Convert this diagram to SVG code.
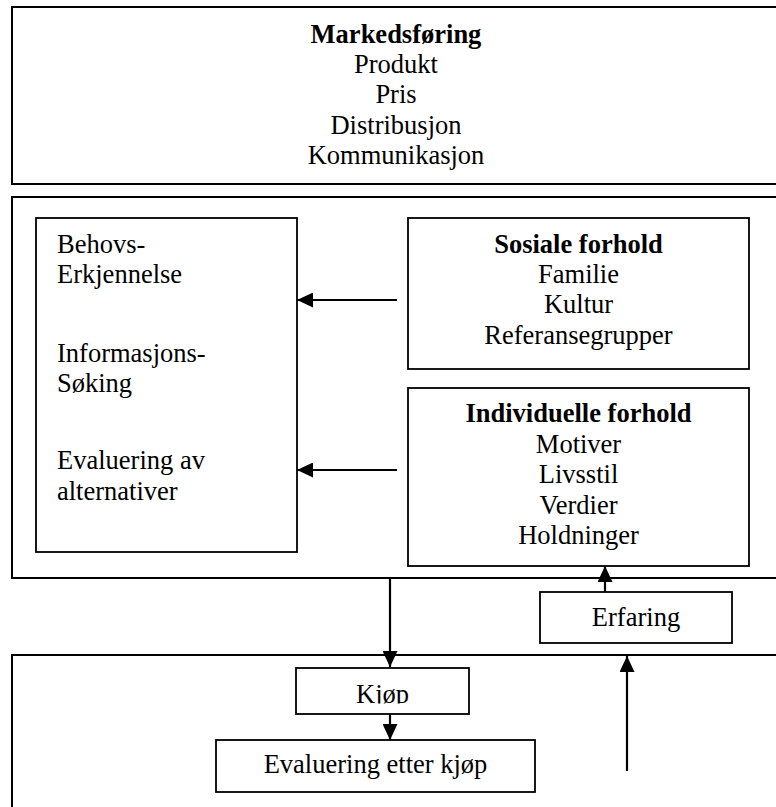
<svg xmlns="http://www.w3.org/2000/svg" width="776" height="807" viewBox="0 0 776 807">
<style>
.box{fill:#fff;stroke:#000;stroke-width:2}
.ibox{fill:#fff;stroke:#000;stroke-width:1.8}
text{font-family:"Liberation Serif","Times New Roman",serif;font-size:26.5px;fill:#000}
.c{text-anchor:middle}
.b{font-weight:bold}
.con{stroke:#000;stroke-width:2.2;fill:none;marker-end:url(#ah)}
</style>
<defs>
<marker id="ah" viewBox="0 0 16 15" refX="16" refY="7.5" markerWidth="16" markerHeight="15" orient="auto" markerUnits="userSpaceOnUse">
<path d="M0,0 L16,7.5 L0,15 z" fill="#000"/>
</marker>
<clipPath id="kclip"><rect x="296" y="668" width="173" height="35.5"/></clipPath>
</defs>
<rect width="776" height="807" fill="#fff"/>
<g id="markedsforing">
<rect class="box" x="12" y="7" width="780" height="177"/>
<text class="c b" x="396" y="43">Markedsføring</text>
<text class="c" x="396" y="73">Produkt</text>
<text class="c" x="396" y="103">Pris</text>
<text class="c" x="396" y="134">Distribusjon</text>
<text class="c" x="396" y="164">Kommunikasjon</text>
</g>
<g id="forbruker">
<rect class="box" x="12" y="197" width="780" height="381"/>
</g>
<g id="prosess">
<rect class="ibox" x="36" y="218" width="261" height="334"/>
<text x="57" y="253">Behovs-</text>
<text x="57" y="283">Erkjennelse</text>
<text x="57" y="362">Informasjons-</text>
<text x="57" y="392">Søking</text>
<text x="57" y="469">Evaluering av</text>
<text x="57" y="500">alternativer</text>
</g>
<g id="sosiale">
<rect class="ibox" x="408" y="218" width="341" height="151"/>
<text class="c b" x="578.5" y="253">Sosiale forhold</text>
<text class="c" x="578.5" y="283">Familie</text>
<text class="c" x="578.5" y="313">Kultur</text>
<text class="c" x="578.5" y="344">Referansegrupper</text>
</g>
<g id="individuelle">
<rect class="ibox" x="408" y="388" width="341" height="178"/>
<text class="c b" x="578.5" y="422">Individuelle forhold</text>
<text class="c" x="578.5" y="453">Motiver</text>
<text class="c" x="578.5" y="483">Livsstil</text>
<text class="c" x="578.5" y="514">Verdier</text>
<text class="c" x="578.5" y="544">Holdninger</text>
</g>
<g id="erfaring">
<rect class="ibox" x="540" y="592" width="192" height="51"/>
<text class="c" x="636" y="626">Erfaring</text>
</g>
<g id="kjopsfase">
<rect class="box" x="12" y="655" width="780" height="170"/>
</g>
<g id="kjop">
<rect class="ibox" x="296" y="668" width="173" height="46"/>
<text class="c" x="382.5" y="703" clip-path="url(#kclip)">Kjøp</text>
</g>
<g id="evaluering">
<rect class="ibox" x="216" y="740" width="319" height="52"/>
<text class="c" x="375.5" y="773">Evaluering etter kjøp</text>
</g>
<g id="connectors">
<line class="con" x1="397" y1="300" x2="297" y2="300"/>
<line class="con" x1="397" y1="470" x2="297" y2="470"/>
<line class="con" x1="390" y1="578" x2="390" y2="667"/>
<line class="con" x1="390" y1="714" x2="390" y2="740"/>
<line class="con" x1="605" y1="592" x2="605" y2="566"/>
<line class="con" x1="627" y1="771" x2="627" y2="656"/>
</g>
</svg>
